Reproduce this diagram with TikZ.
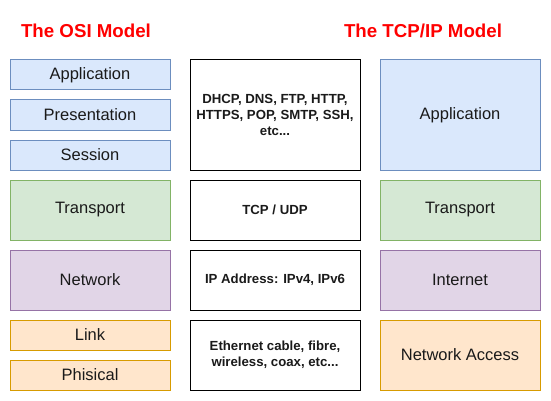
\documentclass[tikz,border=0pt]{standalone}
\usepackage{fontspec}
\setmainfont{Liberation Sans}
\definecolor{bluefill}{HTML}{DAE8FC}
\definecolor{bluedraw}{HTML}{6C8EBF}
\definecolor{greenfill}{HTML}{D5E8D4}
\definecolor{greendraw}{HTML}{82B366}
\definecolor{purplefill}{HTML}{E1D5E7}
\definecolor{purpledraw}{HTML}{9673A6}
\definecolor{orangefill}{HTML}{FFE6CC}
\definecolor{orangedraw}{HTML}{D79B00}
\definecolor{titlered}{HTML}{FF0000}
\definecolor{txt}{HTML}{1A1A1A}
\begin{document}
\begin{tikzpicture}[x=1pt,y=-1pt,
  layerbox/.style={draw, line width=1pt, inner sep=0pt, text=txt,
    font=\fontsize{16.5}{19}\selectfont},
  osibox/.style={layerbox, minimum width=160pt},
  protobox/.style={layerbox, fill=white, draw=black, minimum width=170pt,
    align=center, font=\bfseries\fontsize{13.2}{16}\selectfont},
  bluebox/.style={fill=bluefill, draw=bluedraw},
  greenbox/.style={fill=greenfill, draw=greendraw},
  purplebox/.style={fill=purplefill, draw=purpledraw},
  orangebox/.style={fill=orangefill, draw=orangedraw},
  titletext/.style={text=titlered, font=\bfseries\fontsize{18.7}{22}\selectfont, inner sep=0pt}
]
\useasboundingbox (0,0) rectangle (551,401);

% Titles
\node[titletext] (osititle) at (86,31) {The OSI Model};
\node[titletext] (tcptitle) at (423,31) {The TCP/IP Model};

% OSI model
\node[osibox, bluebox, minimum height=30pt] (oapp) at (90,75) {Application};
\node[osibox, bluebox, minimum height=30pt] (opres) at (90,115) {Presentation};
\node[osibox, bluebox, minimum height=30pt] (osess) at (90,155) {Session};
\node[osibox, greenbox, minimum height=60pt] (otrans) at (90,210) {Transport};
\node[osibox, purplebox, minimum height=60pt] (onet) at (90,280) {Network};
\node[osibox, orangebox, minimum height=30pt] (olink) at (90,335) {Link};
\node[osibox, orangebox, minimum height=30pt] (ophys) at (90,375) {Phisical};

% Protocols
\node[protobox, minimum height=110pt] (papp) at (275,115) {DHCP, DNS, FTP, HTTP,\\HTTPS, POP, SMTP, SSH,\\etc...};
\node[protobox, minimum height=60pt] (ptrans) at (275,210) {TCP / UDP};
\node[protobox, minimum height=60pt] (pnet) at (275,280) {IP Address: IPv4, IPv6};
\node[protobox, minimum height=70pt] (plink) at (275,355) {Ethernet cable, fibre,\\wireless, coax, etc...};

% TCP/IP model
\node[osibox, bluebox, minimum height=110pt] (tapp) at (460,115) {Application};
\node[osibox, greenbox, minimum height=60pt] (ttrans) at (460,210) {Transport};
\node[osibox, purplebox, minimum height=60pt] (tnet) at (460,280) {Internet};
\node[osibox, orangebox, minimum height=70pt] (tacc) at (460,355) {Network Access};
\end{tikzpicture}
\end{document}
